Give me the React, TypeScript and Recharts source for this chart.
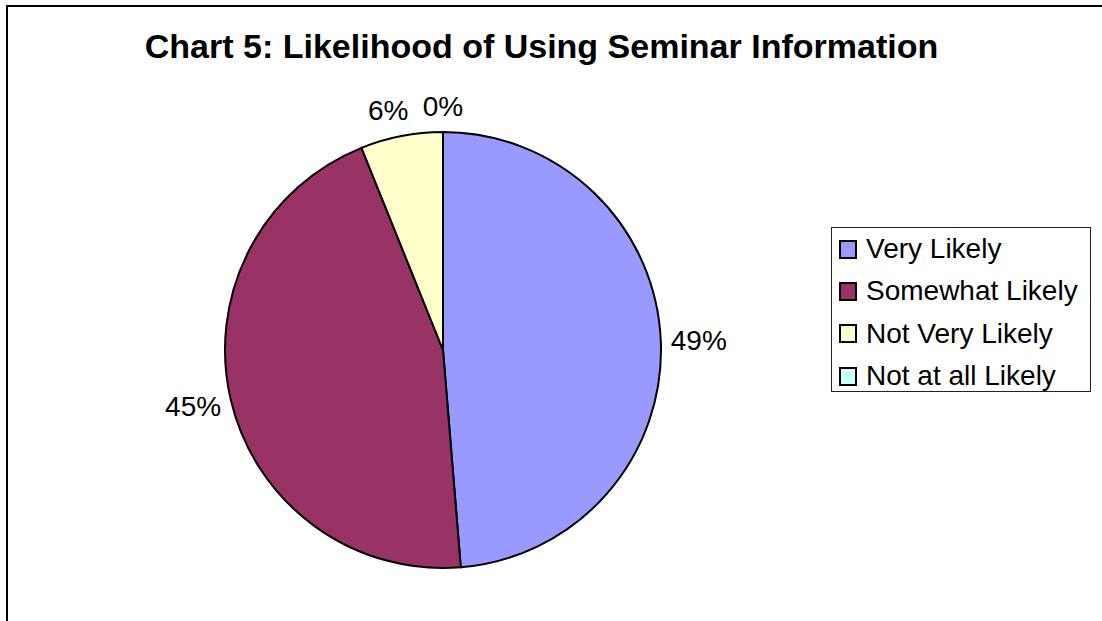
import { PieChart, Pie, Cell, Legend } from "recharts";

const CATEGORIES = ["Very Likely", "Somewhat Likely", "Not Very Likely", "Not at all Likely"];
const VALUES = [48.7, 45.2, 6.1, 0];
const COLORS = ["#9999FF", "#993366", "#FFFFCC", "#CCFFFF"];

const FONT = '"Liberation Sans", Arial, Helvetica, sans-serif';
const RADIAN = Math.PI / 180;

const data = CATEGORIES.map((name, i) => ({ name, value: VALUES[i] }));

const renderLabel = (props: any) => {
  const { cx, cy, midAngle, outerRadius, percent } = props;
  const cos = Math.cos(-midAngle * RADIAN);
  const sin = Math.sin(-midAngle * RADIAN);
  const anchor = cos > 0.3 ? "start" : cos < -0.3 ? "end" : "middle";
  let x = cx + (outerRadius + 10) * cos;
  const y = cy + (outerRadius + 16) * sin + sin * 10;
  // labels near the top are centred, pulled sideways a little like Excel does
  if (anchor === "middle") x += cos * 60;
  return (
    <text
      x={x}
      y={y}
      textAnchor={anchor}
      dominantBaseline="central"
      fontFamily={FONT}
      fontSize={28}
      fill="#000"
    >
      {`${Math.round(percent * 100)}%`}
    </text>
  );
};

const renderLegend = () => (
  <div
    style={{
      width: 258,
      height: 163,
      border: "1px solid #222",
      background: "#fff",
      fontFamily: FONT,
      fontSize: 28,
      boxSizing: "content-box",
    }}
  >
    {CATEGORIES.map((c, i) => (
      <div key={c} style={{ height: 42.3, display: "flex", alignItems: "center" }}>
        <span
          style={{
            display: "inline-block",
            width: 14,
            height: 15,
            marginLeft: 7,
            marginRight: 9,
            border: "2px solid #000",
            background: COLORS[i],
          }}
        />
        <span style={{ lineHeight: "28px", whiteSpace: "nowrap" }}>{c}</span>
      </div>
    ))}
  </div>
);

export default function App() {
  return (
    <div style={{ position: "absolute", left: 0, top: 0, width: 1102, height: 621, overflow: "hidden", background: "#fff" }}>
      <div
        style={{
          position: "absolute",
          left: 6,
          top: 5,
          width: 1200,
          height: 800,
          border: "2px solid #000",
        }}
      />
      <div
        style={{
          position: "absolute",
          left: 0,
          width: 1083,
          top: 27,
          textAlign: "center",
          fontFamily: FONT,
          fontWeight: "bold",
          fontSize: 34,
          lineHeight: "38px",
        }}
      >
        Chart 5: Likelihood of Using Seminar Information
      </div>
      <div style={{ position: "absolute", left: 0, top: 0 }}>
        <PieChart width={1102} height={621} margin={{ top: 0, right: 0, bottom: 0, left: 0 }}>
          <Pie
            data={data}
            dataKey="value"
            nameKey="name"
            cx={443}
            cy={350}
            outerRadius={218}
            startAngle={90}
            endAngle={-270}
            stroke="#000"
            strokeWidth={2}
            label={renderLabel}
            labelLine={false}
            isAnimationActive={false}
          >
            {data.map((entry, i) => (
              <Cell key={entry.name} fill={COLORS[i]} />
            ))}
          </Pie>
          <Legend
            content={renderLegend}
            wrapperStyle={{ position: "absolute", left: 831, top: 227, width: 260 }}
          />
        </PieChart>
      </div>
    </div>
  );
}
